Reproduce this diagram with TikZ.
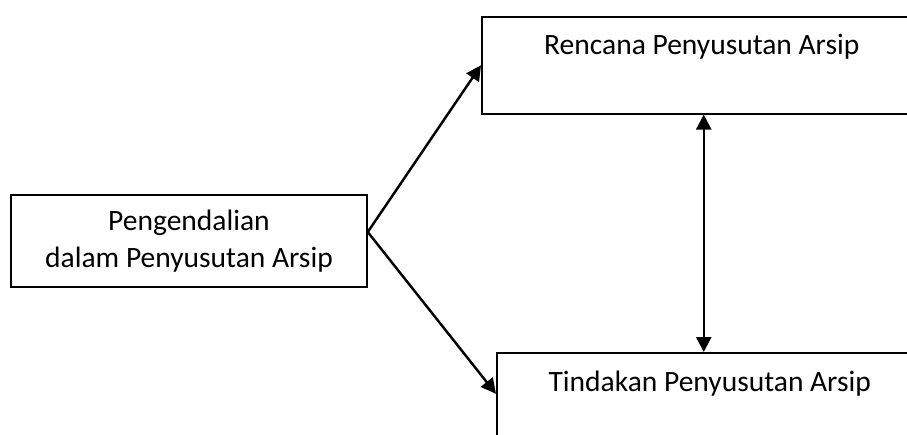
\documentclass[tikz,border=0pt]{standalone}
\usepackage{fontspec}
\setmainfont{Carlito}
\usetikzlibrary{positioning,arrows.meta}

\begin{document}
\begin{tikzpicture}[x=0.02cm,y=-0.02cm,
        font=\fontsize{16.8}{21}\selectfont,
        >={Triangle[length=0.3cm,width=0.3cm]},
        box/.style={draw,line width=0.9pt,inner sep=0pt},
        link/.style={line width=1.4pt,->}]
        \useasboundingbox (0,0) rectangle (907,434);
        \clip (0,0) rectangle (907,434);
        \node[box,minimum width=7.12cm,minimum height=1.84cm,align=center] (pengendalian) at (189,241)
          {Pengendalian\\dalam Penyusutan Arsip};
        \node[box,anchor=north west,minimum width=8.8cm,minimum height=1.94cm] (rencana) at (481,16) {};
        \node[box,anchor=north west,minimum width=8.52cm,minimum height=1.94cm] (tindakan) at (496,352) {};
        \node[anchor=base] (rencanaText) at ([yshift=-0.78cm]rencana.north) {Rencana Penyusutan Arsip};
        \node[anchor=base] (tindakanText) at ([yshift=-0.78cm]tindakan.north) {Tindakan Penyusutan Arsip};
        \coordinate (fork) at ([yshift=0.18cm]pengendalian.east);
        \draw[link] (fork) -- (rencana.west);
        \draw[link] (fork) -- ([yshift=0.15cm]tindakan.west);
        \draw[link,<->] ([xshift=0.04cm]rencana.south) -- ([xshift=0.04cm]rencana.south |- tindakan.north);
      \end{tikzpicture}
\end{document}
